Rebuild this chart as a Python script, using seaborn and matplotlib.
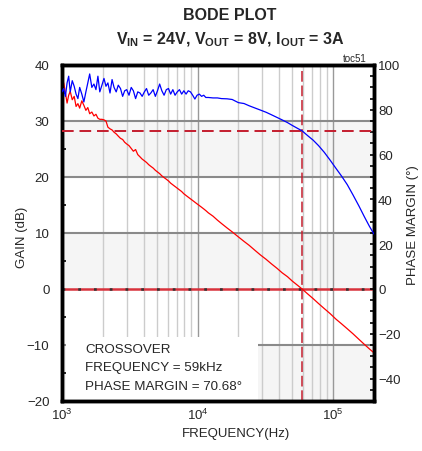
import numpy as np
import matplotlib.pyplot as plt
import seaborn as sns
from matplotlib import font_manager
from matplotlib.patches import Rectangle
from matplotlib.ticker import MultipleLocator

# frequency points (Hz)
freq = [1000, 1030, 1060, 1090, 1120, 1150, 1190, 1230, 1270, 1310, 1350, 1400, 1450, 1500, 1550,
        1600, 1660, 1720, 1780, 1840, 1900, 1970, 2040, 2110, 2180, 2260, 2340, 2420, 2510, 2600,
        2700, 2800, 2900, 3000, 3120, 3240, 3360, 3490, 3620, 3760, 3900, 4050, 4200, 4360, 4520,
        4700, 4880, 5060, 5250, 5450, 5660, 5880, 6100, 6330, 6570, 6820, 7080, 7350, 7630, 7920,
        8220, 8530, 8860, 9200, 9550, 9910, 10300, 10700, 11100, 11500, 12000, 13000, 14000, 15000,
        16500, 18000, 20000, 22000, 24000, 26500, 29000, 32000, 35000, 38500, 42000, 46000, 50000,
        55000, 59000, 65000, 71000, 78000, 86000, 95000, 105000, 115000, 127000, 140000, 155000,
        170000, 185000, 200000]

gain_db = [36.2, 36.8, 35.0, 33.2, 34.6, 35.3, 33.8, 34.4, 32.6, 33.1, 32.3, 33.6, 32.8, 31.9, 32.4,
           31.3, 31.6, 30.9, 31.2, 30.5, 30.3, 30.3, 30.2, 30.0, 28.9, 28.6, 28.4, 28.0, 27.7, 27.3,
           26.9, 26.7, 26.2, 25.9, 25.6, 25.1, 24.6, 24.9, 24.0, 23.6, 23.2, 22.9, 22.6, 22.2, 21.9,
           21.6, 21.2, 20.9, 20.6, 20.2, 19.9, 19.6, 19.3, 18.9, 18.6, 18.3, 18.0, 17.7, 17.4, 17.0,
           16.7, 16.4, 16.1, 15.8, 15.5, 15.2, 14.9, 14.6, 14.3, 14.0, 13.6, 13.0, 12.3, 11.7,
           10.9, 10.2, 9.3, 8.5, 7.8, 6.9, 6.1, 5.3, 4.5, 3.7, 2.9, 2.2, 1.4,
           0.6, 0.0, -0.9, -1.7, -2.6, -3.5, -4.4, -5.4, -6.2, -7.1, -8.0, -9.0,
           -9.9, -10.7, -11.4]

phase_deg = [88.0, 89.5, 86.0, 92.0, 95.0, 88.0, 93.0, 90.5, 87.0, 85.0, 90.0, 87.0, 83.5, 88.0, 92.0,
             96.0, 90.0, 91.5, 89.0, 95.0, 88.0, 91.0, 94.0, 90.5, 92.0, 87.5, 93.5, 90.0, 88.0, 91.0,
             89.5, 86.0, 88.5, 89.0, 86.5, 90.0, 88.5, 85.0, 88.0, 87.5, 86.0, 88.0, 89.5, 86.5, 87.5,
             89.0, 86.0, 88.5, 91.5, 88.5, 86.5, 89.0, 89.5, 87.0, 89.0, 86.5, 88.0, 89.0, 87.0, 88.5,
             87.0, 88.5, 88.0, 86.5, 84.8, 86.5, 87.0, 86.0, 86.5, 85.5, 85.5, 85.3, 85.3, 85.0,
             84.9, 84.6, 83.2, 82.8, 81.8, 80.8, 79.9, 78.9, 77.8, 76.6, 75.5, 74.3, 73.0,
             71.6, 70.6, 68.4, 66.5, 64.0, 61.0, 57.5, 53.8, 50.5, 46.6, 42.0, 37.0,
             32.2, 28.0, 24.5]

minor_grid = [2e3, 3e3, 4e3, 5e3, 6e3, 7e3, 8e3, 9e3, 2e4, 3e4, 4e4, 5e4, 6e4, 7e4, 8e4, 9e4]
crossover_hz = 59000
phase_margin = 70.68

sns.set_style('white')
names = {f.name for f in font_manager.fontManager.ttflist}
fam = 'Liberation Sans Narrow' if 'Liberation Sans Narrow' in names else 'Liberation Sans'
plt.rcParams['font.family'] = [fam, 'DejaVu Sans']
plt.rcParams['mathtext.fontset'] = 'custom'
plt.rcParams['mathtext.rm'] = fam
plt.rcParams['mathtext.bf'] = fam + ':bold'
plt.rcParams['mathtext.it'] = fam + ':italic'

fig = plt.figure(figsize=(4.22, 4.52), dpi=100)
ax = fig.add_axes([62 / 422, 50 / 452, 312 / 422, 336 / 452])
ax.set_xscale('log')

# background bands and grid
for lo, hi in [(20, 30), (0, 10), (-20, -10)]:
    ax.axhspan(lo, hi, color='#f5f5f5', lw=0, zorder=0)
for f in minor_grid:
    ax.axvline(f, color='#cccccc', lw=1, zorder=1)
for f in [1e4, 1e5]:
    ax.axvline(f, color='#999999', lw=1, zorder=1)
for g in [30, 20, 10, -10]:
    ax.axhline(g, color='#8a8a8a', lw=1.5, zorder=1)

ax.add_patch(Rectangle((0.013, 0.0), 0.615, 0.19, transform=ax.transAxes,
                       facecolor='white', edgecolor='none', zorder=1.5))

ax.axhline(0, color='#d8323c', lw=1.8, zorder=3)
ax.axhline(0, color='#333333', lw=1.8, dashes=(1.1, 5.2), zorder=3)
ax.axvline(crossover_hz, color='#c41e2e', lw=1.1, dashes=(7, 2.5), zorder=3)

sns.lineplot(x=freq, y=gain_db, ax=ax, color='#ff0000', lw=0.9, zorder=4)

ax2 = ax.twinx()
ax2.axhline(phase_margin, color='#c41e2e', lw=1.4, dashes=(6, 3), zorder=3)
sns.lineplot(x=freq, y=phase_deg, ax=ax2, color='#0000ff', lw=0.9, zorder=4)

ax.set_xlim(1000, 200000)
ax.set_ylim(-20, 40)
ax2.set_ylim(-50, 100)

ax.set_xticks([1e3, 1e4, 1e5])
ax.tick_params(axis='x', which='both', length=0, labelsize=9.5, pad=4)
ax.set_yticks(range(-20, 41, 10))
ax.yaxis.set_minor_locator(MultipleLocator(5))
ax.tick_params(axis='y', which='major', length=0, labelsize=9.5, pad=9)
ax.tick_params(axis='y', which='minor', direction='in', length=3, width=1.2, color='black')
ax2.set_yticks(range(-40, 101, 20))
ax2.yaxis.set_minor_locator(MultipleLocator(5))
ax2.tick_params(axis='y', which='both', direction='in', length=3, width=1.2, color='black',
                labelsize=9.5, pad=3)

ax.set_xlabel('')
ax.set_ylabel('')
ax2.set_ylabel('')
for a in (ax, ax2):
    for sp in a.spines.values():
        sp.set_linewidth(2.5)
        sp.set_color('black')

ax.text(0.074, 0.155, 'CROSSOVER', transform=ax.transAxes, fontsize=9.6, va='center', zorder=5)
ax.text(0.074, 0.100, 'FREQUENCY = 59kHz', transform=ax.transAxes, fontsize=9.6, va='center', zorder=5)
ax.text(0.074, 0.045, 'PHASE MARGIN = 70.68°', transform=ax.transAxes, fontsize=9.6, va='center', zorder=5)

fig.text(230 / 422, 1 - 15 / 452, 'BODE PLOT', fontsize=11.5, fontweight='bold', ha='center', va='center')
fig.text(230 / 422, 1 - 40 / 452,
         r'$\mathbf{V_{IN}}$ = 24V, $\mathbf{V_{OUT}}$ = 8V, $\mathbf{I_{OUT}}$ = 3A',
         fontsize=11.5, fontweight='bold', ha='center', va='center')
fig.text(355 / 422, 1 - 59 / 452, 'toc51', fontsize=7, ha='center', va='center')
fig.text(22 / 422, 1 - 237 / 452, 'GAIN (dB)', fontsize=9.5, rotation=90, ha='center', va='center')
fig.text(413 / 422, 1 - 225 / 452, 'PHASE MARGIN (°)', fontsize=9.5, rotation=90, ha='center', va='center')
fig.text(236 / 422, 1 - 434 / 452, 'FREQUENCY(Hz)', fontsize=9.5, ha='center', va='center')

fig.savefig('out.png', dpi=100)
